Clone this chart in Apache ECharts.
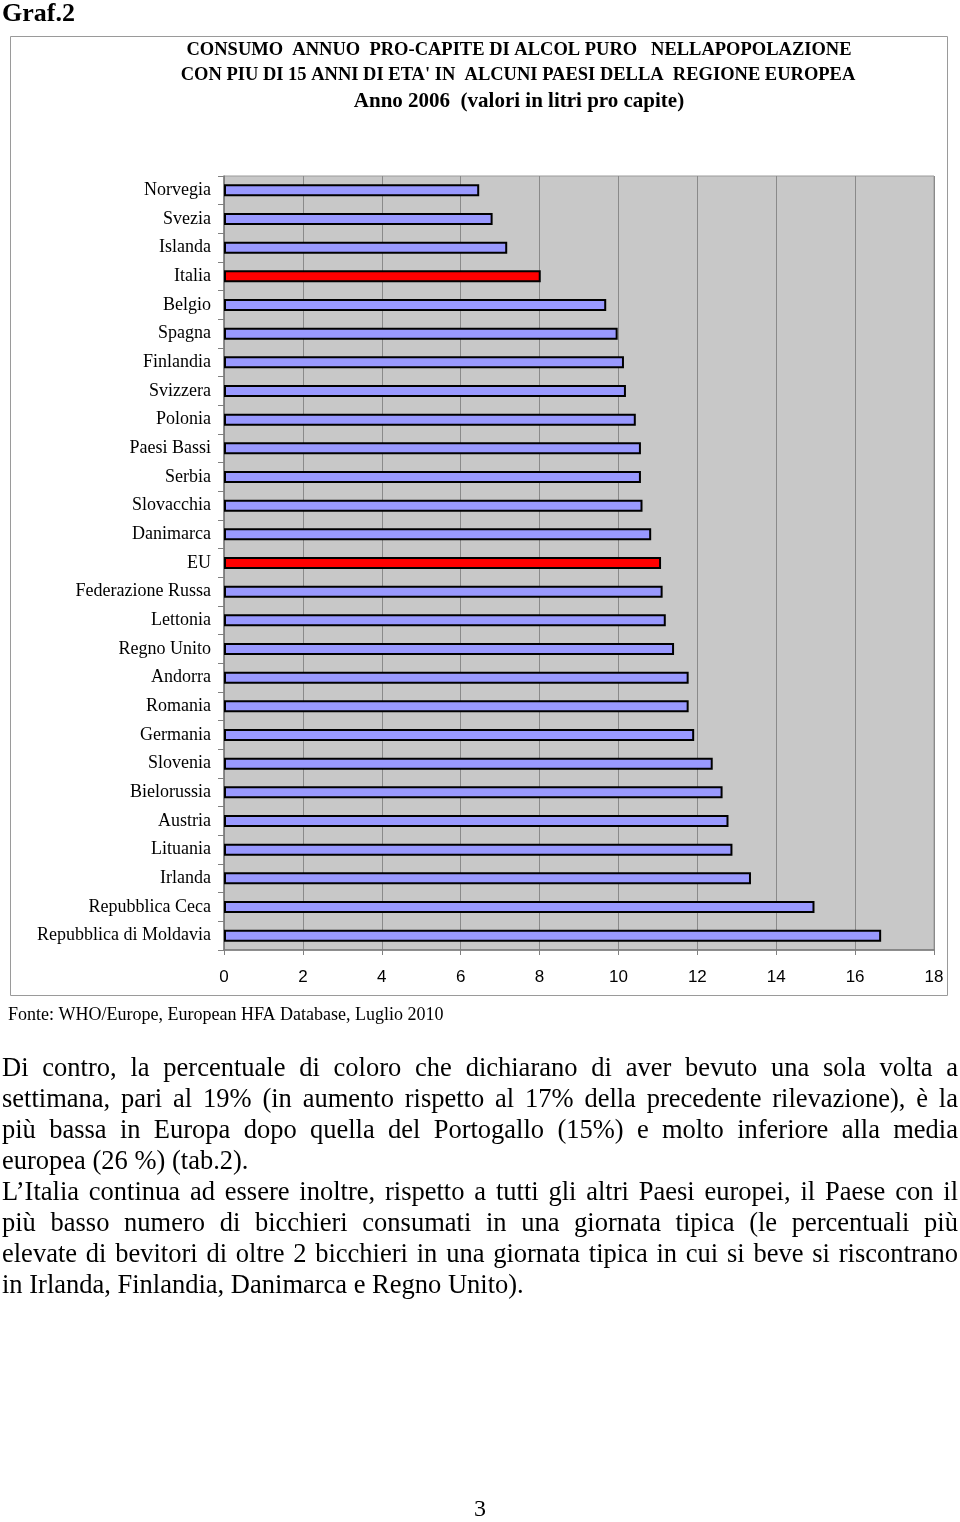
<!DOCTYPE html>
<html>
<head>
<meta charset="utf-8">
<script src="https://cdn.jsdelivr.net/npm/echarts@6/dist/echarts.min.js"></script>
<style>
  html, body { margin:0; padding:0; background:#fff; }
  #chart { position:absolute; left:0; top:0; width:960px; height:1522px; }
  #text { position:absolute; left:2px; top:1052px; width:956px; font-family:"Liberation Serif", serif; font-size:26.5px; line-height:31px; color:#000; }
  .ln { white-space:nowrap; height:31px; }
</style>
</head>
<body>
<div id="chart"></div>
<div id="text">
  <div class="ln"><span class="j">Di contro, la percentuale di coloro che dichiarano di aver bevuto una sola volta a</span></div>
  <div class="ln"><span class="j">settimana, pari al 19% (in aumento rispetto al 17% della precedente rilevazione), è la</span></div>
  <div class="ln"><span class="j">più bassa in Europa dopo quella del Portogallo (15%) e molto inferiore alla media</span></div>
  <div class="ln"><span>europea (26 %) (tab.2).</span></div>
  <div class="ln"><span class="j">L’Italia continua ad essere inoltre, rispetto a tutti gli altri Paesi europei, il Paese con il</span></div>
  <div class="ln"><span class="j">più basso numero di bicchieri consumati in una giornata tipica (le percentuali più</span></div>
  <div class="ln"><span class="j">elevate di bevitori di oltre 2 bicchieri in una giornata tipica in cui si beve si riscontrano</span></div>
  <div class="ln"><span>in Irlanda, Finlandia, Danimarca e Regno Unito).</span></div>
</div>
<script>
// ---- data ----
var countries = ["Norvegia","Svezia","Islanda","Italia","Belgio","Spagna","Finlandia","Svizzera","Polonia","Paesi Bassi","Serbia","Slovacchia","Danimarca","EU","Federazione Russa","Lettonia","Regno Unito","Andorra","Romania","Germania","Slovenia","Bielorussia","Austria","Lituania","Irlanda","Repubblica Ceca","Repubblica di Moldavia"];
var litres = [6.47, 6.81, 7.18, 8.03, 9.69, 9.98, 10.14, 10.19, 10.44, 10.57, 10.57, 10.61, 10.83, 11.08, 11.12, 11.2, 11.41, 11.78, 11.78, 11.92, 12.39, 12.64, 12.79, 12.89, 13.36, 14.97, 16.66];
var highlighted = ["Italia", "EU"];
var xTicks = [0, 2, 4, 6, 8, 10, 12, 14, 16, 18];
var titleLines = ["CONSUMO  ANNUO  PRO-CAPITE DI ALCOL PURO   NELLAPOPOLAZIONE", "CON PIU DI 15 ANNI DI ETA' IN  ALCUNI PAESI DELLA  REGIONE EUROPEA", "Anno 2006  (valori in litri pro capite)"];
var sourceText = "Fonte: WHO/Europe, European HFA Database, Luglio 2010";

var chart = echarts.init(document.getElementById('chart'), null, {renderer:'canvas'});
var serif = '"Liberation Serif", "Times New Roman", serif';
var sans = '"Liberation Sans", Arial, sans-serif';

var barData = countries.map(function(c, i){
  return { value: litres[i], itemStyle: { color: highlighted.indexOf(c) >= 0 ? '#ff0000' : '#9999ff' } };
});

chart.setOption({
  animation: false,
  grid: { left: 224, top: 176, width: 710, height: 774, show: true, backgroundColor: '#c8c8c8', borderColor: '#9a9a9a', borderWidth: 1 },
  xAxis: {
    type: 'value', min: xTicks[0], max: xTicks[xTicks.length-1], interval: 2,
    axisLine: { show: true, lineStyle: { color: '#7a7a7a', width: 1.5 } },
    axisTick: { show: true, length: 5, lineStyle: { color: '#808080' } },
    splitLine: { show: true, lineStyle: { color: '#8a8a8a', width: 1 } },
    axisLabel: { fontFamily: sans, fontSize: 17, color: '#000', margin: 19 }
  },
  yAxis: {
    type: 'category', inverse: true, data: countries,
    axisLine: { show: true, lineStyle: { color: '#7a7a7a', width: 1.5 } },
    axisTick: { show: true, length: 6, lineStyle: { color: '#808080' } },
    axisLabel: { fontFamily: serif, fontSize: 18, color: '#000', margin: 13 },
    splitLine: { show: false }
  },
  series: [{
    type: 'bar', data: barData, barWidth: 12,
    itemStyle: { borderColor: '#000', borderWidth: 2 }
  }],
  graphic: [
    { type: 'rect', shape: { x: 10.5, y: 36.5, width: 937, height: 959 }, style: { fill: 'none', stroke: '#9a9a9a', lineWidth: 1 }, silent: true, z: -1 },
    { type: 'text', x: 2, y: 14, style: { text: 'Graf.2', font: 'bold 26px ' + serif, fill: '#000', textVerticalAlign: 'middle' } },
    { type: 'text', x: 519, y: 50, style: { text: titleLines[0], font: 'bold 18.5px ' + serif, fill: '#000', textAlign: 'center', textVerticalAlign: 'middle' } },
    { type: 'text', x: 518, y: 75, style: { text: titleLines[1], font: 'bold 18.5px ' + serif, fill: '#000', textAlign: 'center', textVerticalAlign: 'middle' } },
    { type: 'text', x: 519, y: 102, style: { text: titleLines[2], font: 'bold 21px ' + serif, fill: '#000', textAlign: 'center', textVerticalAlign: 'middle' } },
    { type: 'text', x: 8, y: 1015, style: { text: sourceText, font: '18px ' + serif, fill: '#000', textVerticalAlign: 'middle' } },
    { type: 'text', x: 480, y: 1510, style: { text: '3', font: '24px ' + serif, fill: '#000', textAlign: 'center', textVerticalAlign: 'middle' } }
  ]
});

function justify(){
  var target = 956;
  document.querySelectorAll('span.j').forEach(function(s){
    s.style.wordSpacing = '0px';
    var w = s.getBoundingClientRect().width;
    var n = (s.textContent.match(/ /g) || []).length;
    if (n > 0) s.style.wordSpacing = ((target - w) / n) + 'px';
  });
}
justify();
if (document.fonts && document.fonts.ready) document.fonts.ready.then(justify);
</script>
</body>
</html>
